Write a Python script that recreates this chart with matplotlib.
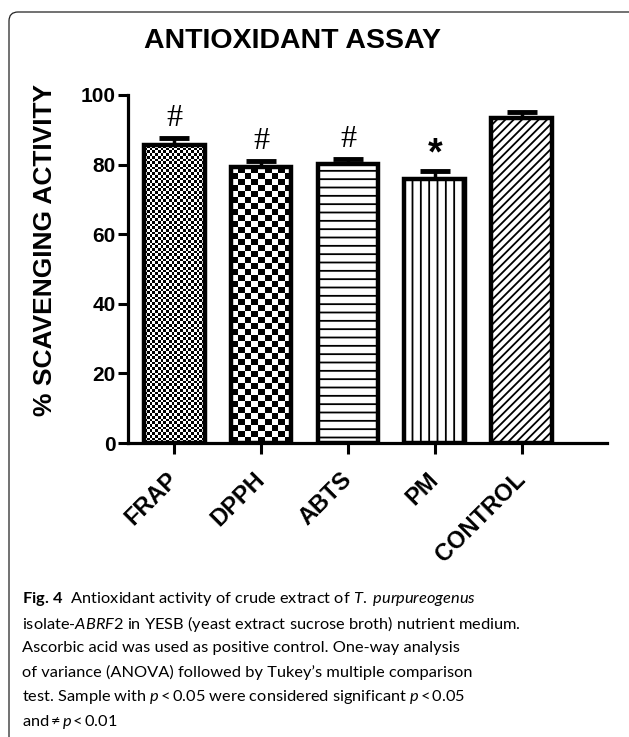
import numpy as np
import matplotlib.pyplot as plt
from matplotlib.path import Path
from matplotlib.patches import PathPatch

# data
assays = ["FRAP", "DPPH", "ABTS", "PM", "CONTROL"]
scavenging = [85.5, 79.3, 80.3, 75.8, 93.4]   # % scavenging activity
sem = [2.2, 1.7, 1.2, 2.3, 1.6]               # upper error bar
marks = ["#", "#", "#", "*", ""]              # significance signs

plt.rcParams['hatch.linewidth'] = 1.3
plt.rcParams['font.family'] = ['Liberation Sans', 'DejaVu Sans']

W, H = 629, 737
fig = plt.figure(figsize=(W / 100, H / 100), dpi=100)
ax = fig.add_axes([128 / W, 1 - 443 / H, 479 / W, 348 / H])

x = np.arange(len(assays))
w = 0.7
hatches = [None, None, "--", "||", "////"]

bars = ax.bar(x, scavenging, w, color="white", edgecolor="black",
              linewidth=0, zorder=2)
for b, h in zip(bars, hatches):
    if h:
        b.set_hatch(h)

# checkerboard fills for FRAP and DPPH, clipped to the bar
cells = {0: (22, 0.78), 1: (9, 1.72)}
for i, (nx, dy) in cells.items():
    b = bars[i]
    ny = int(round(b.get_height() / dy))
    yy, xx = np.indices((ny, nx))
    board = (xx + yy) % 2
    im = ax.imshow(board, cmap="gray", interpolation="nearest", aspect="auto",
                   extent=(b.get_x(), b.get_x() + w, 0, b.get_height()),
                   origin="lower", zorder=2.5)
    im.set_clip_path(b)

ax.errorbar(x, scavenging, yerr=[np.zeros(len(sem)), sem], fmt="none",
            ecolor="black", elinewidth=2.5, capsize=11, capthick=3.5, zorder=1.5)
ax.bar(x, scavenging, w, facecolor="none", edgecolor="black", linewidth=3.2,
       zorder=3)

for xi, v, e, m in zip(x, scavenging, sem, marks):
    if m == "#":
        ax.text(xi, v + e + 5.6, m, ha="center", va="center", fontsize=23,
                family="Liberation Serif", clip_on=False)
    elif m:
        ax.text(xi, v + e + 4.8, m, ha="center", va="center", fontsize=27,
                fontweight="bold", clip_on=False)

ax.set_xlim(-0.53, 4.98)
ax.set_ylim(0, 100)
ax.set_yticks([0, 20, 40, 60, 80, 100])
ax.set_xticks(x)
ax.set_xticklabels(assays, rotation=45, ha="right", va="center", fontsize=17,
                   fontweight="bold", rotation_mode="anchor")
for lab in ax.get_yticklabels():
    lab.set_fontsize(15)
    lab.set_fontweight("bold")
ax.tick_params(axis="y", length=7, width=2.2, pad=2)
ax.tick_params(axis="x", length=8, width=2.2, pad=16)
for s in ["top", "right"]:
    ax.spines[s].set_visible(False)
for s in ["left", "bottom"]:
    ax.spines[s].set_linewidth(2.3)

fig.text(45 / W, 1 - 250 / H, "% SCAVENGING ACTIVITY", rotation=90,
         ha="center", va="center", fontsize=19, fontweight="bold")
fig.text(292 / W, 1 - 41 / H, "ANTIOXIDANT ASSAY", ha="center", va="center",
         fontsize=20.5, fontweight="bold")

# caption
plt.rcParams['mathtext.fontset'] = 'custom'
plt.rcParams['mathtext.rm'] = 'Lato'
plt.rcParams['mathtext.it'] = 'Lato:italic'
plt.rcParams['mathtext.bf'] = 'Lato:bold'
caption = [
    r"$\mathbf{Fig.\,4}$  Antioxidant activity of crude extract of $\mathit{T.}$ $\mathit{purpureogenus}$",
    r"isolate-$\mathit{ABRF2}$ in YESB (yeast extract sucrose broth) nutrient medium.",
    "Ascorbic acid was used as positive control. One-way analysis",
    "of variance (ANOVA) followed by Tukey\u2019s multiple comparison",
    "test. Sample with $p$\u2009<\u20090.05 were considered significant $p$\u2009<\u20090.05",
    "and\u2009\u2260\u2009$p$\u2009<\u20090.01",
]
for k, line in enumerate(caption):
    fig.text(22 / W, 1 - (599 + 24.6 * k) / H, line, ha="left", va="center",
             fontsize=11.8, family=["Lato", "DejaVu Sans"])

# frame with a rounded top-left corner, open to the right and bottom
r = 9
pts = [(9, H + 5), (9, 12 + r), (9, 12), (9 + r, 12), (W + 5, 12)]
verts = [(px / W, 1 - py / H) for px, py in pts]
codes = [Path.MOVETO, Path.LINETO, Path.CURVE3, Path.CURVE3, Path.LINETO]
fig.patches.append(PathPatch(Path(verts, codes), transform=fig.transFigure,
                             facecolor="none", edgecolor="#222222", linewidth=0.9))

fig.savefig("out.png", dpi=100)
